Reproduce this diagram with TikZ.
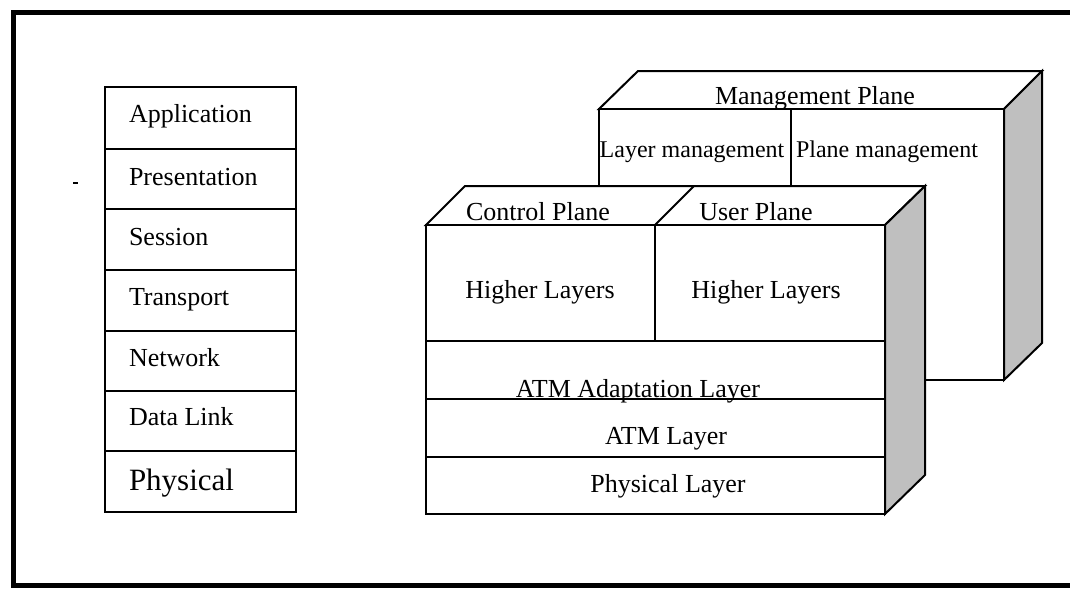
\documentclass[tikz,border=0pt]{standalone}
\usepackage{fontspec}
\setmainfont{Liberation Serif}
\begin{document}
\begin{tikzpicture}[x=0.75pt,y=-0.75pt, line width=1.5pt, line join=miter,
  box/.style={draw=black, fill=white},
  side/.style={draw=black, fill=black!25},
  frame/.style={line width=3.75pt},
  lbl/.style={inner sep=0pt, font=\fontsize{19.5}{22}\selectfont},
  lblsm/.style={inner sep=0pt, font=\fontsize{18}{20}\selectfont},
  lblbig/.style={inner sep=0pt, font=\fontsize{23.25}{26}\selectfont}]

\useasboundingbox (0,0) rectangle (1070,589);
% outer frame (right side lies beyond the picture)
\draw[frame] (1070,12.5) -- (13,12.5) -- (13,585) -- (1070,585);
\draw[line width=1.2pt] (73,183) -- (78,183);

% ---------------- OSI stack ----------------
\foreach \t/\b in {87/149,149/209,209/270,270/331,331/391,391/451,451/512}
  \draw[box] (105,\t) rectangle (296,\b);
\node[lbl, anchor=base west] (app)  at (128,122) {Application};
\node[lbl, anchor=base west] (pres) at (128,185) {Presentation};
\node[lbl, anchor=base west] (sess) at (128,245) {Session};
\node[lbl, anchor=base west] (trans) at (128,305) {Transport};
\node[lbl, anchor=base west] (net)  at (128,366) {Network};
\node[lbl, anchor=base west] (dl)   at (128,425) {Data Link};
\node[lblbig, anchor=base west] (phy) at (128,490) {Physical};

% ---------------- Management plane (back box) ----------------
\draw[box]  (599,109) -- (638,71) -- (1042,71) -- (1004,109) -- cycle;
\draw[side] (1004,109) -- (1042,71) -- (1042,343) -- (1004,380) -- cycle;
\draw[box]  (599,109) rectangle (1004,380);
\draw (791,109) -- (791,186);
\node[lbl, anchor=base] (mp) at (815,104) {Management Plane};
\node[lblsm, anchor=base] (lm) at (692,157) {Layer management};
\node[lblsm, anchor=base] (pm) at (887,157) {Plane management};

% ---------------- Control / User plane (front box) ----------------
\draw[box]  (426,225) -- (465,186) -- (925,186) -- (885,225) -- cycle;
\draw[side] (885,225) -- (925,186) -- (925,475) -- (885,514) -- cycle;
\draw[box]  (426,225) rectangle (885,514);
\draw (655,225) -- (694,186);
\draw (655,225) -- (655,341);
\foreach \y in {341,399,457} \draw (426,\y) -- (885,\y);

\node[lbl, anchor=base] (cp)  at (538,220) {Control Plane};
\node[lbl, anchor=base] (up)  at (756,220) {User Plane};
\node[lbl, anchor=base] (hl1) at (540,298) {Higher Layers};
\node[lbl, anchor=base] (hl2) at (766,298) {Higher Layers};
\node[lbl, anchor=base] (aal) at (638,397) {ATM Adaptation Layer};
\node[lbl, anchor=base] (atm) at (666,444) {ATM Layer};
\node[lbl, anchor=base] (pl)  at (668,492) {Physical Layer};
\end{tikzpicture}
\end{document}
